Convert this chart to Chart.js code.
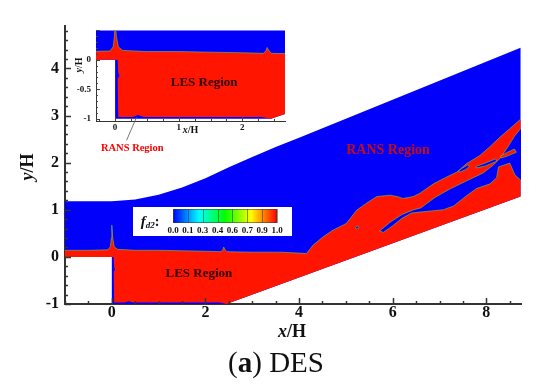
<!DOCTYPE html>
<html>
<head>
<meta charset="utf-8">
<script src="https://cdn.jsdelivr.net/npm/chart.js@4.4.1/dist/chart.umd.min.js"></script>
<style>
  html, body { margin: 0; padding: 0; background: #fff; }
  #wrap { position: relative; width: 550px; height: 387px; overflow: hidden; }
  #main { position: absolute; left: 0; top: 0; }
  #inset { position: absolute; left: 66px; top: 20px; }
</style>
</head>
<body>
<div id="wrap">
  <canvas id="main" width="550" height="387"></canvas>
  <canvas id="inset" width="224" height="140"></canvas>
</div>
<script>
// ---- geometry, in x/H, y/H ----
const upperWall = [[-1, 1.18], [0, 1.18], [0.5, 1.22], [1, 1.32], [1.5, 1.47], [2, 1.67], [2.5, 1.9],
  [3, 2.12], [3.5, 2.33], [4, 2.53], [8.73, 4.44]];
const lowerWall = [[8.73, 1.28], [2.45, -1], [0, -1], [0, 0], [-1, 0]];

// top edge of the LES (f_d2 = 1) zone, left to right
const lesInterface = [[-1, 0.14], [-0.5, 0.14], [-0.08, 0.15], [-0.03, 0.22], [-0.01, 0.4], [0, 0.67],
  [0.02, 0.4], [0.05, 0.22], [0.12, 0.16], [0.5, 0.14], [1, 0.14], [1.5, 0.13], [2, 0.12], [2.33, 0.11],
  [2.37, 0.15], [2.39, 0.21], [2.42, 0.15], [2.46, 0.11], [3, 0.1], [3.59, 0.1], [4.0, 0.08], [4.16, 0.07],
  [4.22, 0.15], [4.3, 0.25], [4.52, 0.43], [4.73, 0.57], [5.01, 0.71], [5.12, 0.85], [5.23, 0.99],
  [5.44, 1.14], [5.66, 1.28], [5.94, 1.31], [6.1, 1.28], [6.22, 1.24], [6.44, 1.28], [6.58, 1.35],
  [6.87, 1.55], [7.1, 1.67], [7.37, 1.8], [7.58, 1.98], [7.86, 2.15], [8.1, 2.36], [8.29, 2.54],
  [8.5, 2.72], [8.73, 2.92]];
// rest of the LES zone outline, along the walls back to the start
const lesLower = [[8.73, 1.28], [2.45, -1], [2.3, -0.97], [0.45, -0.97], [0.36, -0.94], [0.28, -0.97],
  [0.05, -0.97], [0.04, -0.32], [0.07, -0.27], [0.05, -0.22], [0.04, 0], [-1, 0]];

// RANS pockets inside the LES band (right side runs past the outlet and is clipped)
const ransChannel = [[5.72, 0.55], [5.95, 0.74], [6.2, 0.9], [6.45, 1.0], [6.6, 1.04], [6.9, 1.26],
  [7.22, 1.44], [7.55, 1.6], [7.93, 1.78], [8.15, 1.95], [8.3, 2.1], [8.45, 2.32], [8.6, 2.56],
  [8.73, 2.72], [8.8, 2.75], [8.8, 1.6], [8.73, 1.63], [8.61, 1.74], [8.5, 1.99], [8.26, 1.91],
  [8.22, 1.68], [8.08, 1.55], [7.79, 1.45], [7.58, 1.3], [7.3, 1.08], [7.08, 1.0], [6.87, 0.98],
  [6.58, 0.95], [6.4, 0.93], [6.2, 0.82], [6.0, 0.66], [5.8, 0.52]];
const ransHoleA = [[7.4, 1.82], [7.48, 1.88], [7.6, 1.95], [7.64, 1.92], [7.55, 1.85], [7.44, 1.8]];
const ransHoleB = [[7.78, 1.92], [7.95, 1.98], [8.2, 2.08], [8.22, 2.03], [7.98, 1.93], [7.8, 1.89]];
const ransDot = [[5.2, 0.62], [5.26, 0.66], [5.28, 0.62], [5.22, 0.59]];
// LES streak inside the RANS channel
const lesStreak = [[8.3, 2.14], [8.45, 2.22], [8.6, 2.29], [8.64, 2.22], [8.45, 2.14], [8.32, 2.1]];

// axes and legend
const mainX = [-1, 8.74], mainY = [-1, 4.9];
const insetX = [-0.3, 2.67], insetY = [-1.04, 0.5];
const insetYTicks = [-1, -0.5, 0];
const colorbarTicks = ['0.0', '0.1', '0.3', '0.4', '0.6', '0.7', '0.9', '1.0'];
const colorbarStops = ['#0000ff', '#00ffff', '#00ff00', '#ffff00', '#ff0000'];

const BLUE = '#0000fb', RED = '#ff1500', EDGE = 'rgba(120,200,60,0.6)';
const SERIF = '"Liberation Serif", "Times New Roman", serif';

const pts = a => a.map(([x, y]) => ({ x, y }));
const closed = a => a.concat([a[0]]);

function fieldDatasets() {
  return [
    { data: pts(upperWall.concat(lowerWall)), backgroundColor: BLUE, fill: 'shape', borderWidth: 0, order: 5 },
    { data: pts(lesInterface.concat(lesLower)), backgroundColor: RED, fill: 'shape', borderWidth: 0, order: 4 },
    { data: pts(lesInterface), fill: false, borderColor: EDGE, borderWidth: 1, order: 3 },
    ...[ransChannel, ransHoleA, ransHoleB, ransDot].map(p => (
      { data: pts(closed(p)), backgroundColor: BLUE, fill: 'shape', borderColor: EDGE, borderWidth: 1, order: 2 })),
    { data: pts(closed(lesStreak)), backgroundColor: RED, fill: 'shape', borderColor: EDGE, borderWidth: 1, order: 1 }
  ];
}

function drawParts(ctx, parts, cx, cy) {
  let w = 0;
  parts.forEach(p => { ctx.font = p.font; p.w = ctx.measureText(p.t).width; w += p.w; });
  let xx = cx - w / 2;
  ctx.textAlign = 'left';
  ctx.textBaseline = 'alphabetic';
  parts.forEach(p => {
    ctx.font = p.font;
    ctx.fillStyle = p.color || '#111';
    ctx.fillText(p.t, xx, cy + (p.dy || 0));
    xx += p.w;
  });
}

function text(ctx, s, x, y, font, color) {
  ctx.font = font;
  ctx.fillStyle = color;
  ctx.textAlign = 'center';
  ctx.textBaseline = 'middle';
  ctx.fillText(s, x, y);
}

// inward tick marks (Tecplot style)
function inwardTicks(chart, t) {
  const { ctx, chartArea: a, scales: { x, y } } = chart;
  ctx.save();
  ctx.strokeStyle = t.color;
  ctx.lineWidth = t.width;
  ctx.beginPath();
  for (let i = Math.ceil(x.min / t.xMinor - 1e-9); i * t.xMinor <= x.max + 1e-9; i++) {
    const v = i * t.xMinor;
    const major = Math.abs(v / t.xMajor - Math.round(v / t.xMajor)) < 1e-6;
    const px = Math.round(x.getPixelForValue(v)) + 0.5;
    ctx.moveTo(px, a.bottom);
    ctx.lineTo(px, a.bottom - (major ? t.major : t.minor));
  }
  for (let i = Math.ceil(y.min / t.yMinor - 1e-9); i * t.yMinor <= y.max + 1e-9; i++) {
    const v = i * t.yMinor;
    const major = Math.abs(v / t.yMajor - Math.round(v / t.yMajor)) < 1e-6;
    const py = Math.round(y.getPixelForValue(v)) + 0.5;
    ctx.moveTo(a.left, py);
    ctx.lineTo(a.left + (major ? t.major : t.minor), py);
  }
  ctx.stroke();
  ctx.restore();
}

function axisOpts(range, step, fontSize, pad, lineW, fit) {
  return {
    type: 'linear', min: range[0], max: range[1],
    grid: { display: false, drawTicks: false },
    border: { display: true, color: '#333', width: lineW },
    ticks: { stepSize: step, includeBounds: false, padding: pad, color: '#111',
      font: { family: SERIF, weight: 'bold', size: fontSize },
      callback: v => String(+v.toFixed(2)) },
    afterFit: fit
  };
}

const mainDecor = {
  id: 'mainDecor',
  afterDatasetsDraw(chart) {
    const { ctx, scales: { x, y } } = chart;
    ctx.save();
    text(ctx, 'LES Region', x.getPixelForValue(1.86), y.getPixelForValue(-0.35), 'bold 13px ' + SERIF, '#2a0000');
    text(ctx, 'RANS Region', x.getPixelForValue(5.9), y.getPixelForValue(2.25), 'bold 14px ' + SERIF, '#c00c18');

    // colour legend
    ctx.fillStyle = '#fff';
    ctx.fillRect(133, 207, 159, 29);
    const bx = 173, bw = 104, by = 209, bh = 14;
    const g = ctx.createLinearGradient(bx, 0, bx + bw, 0);
    colorbarStops.forEach((c, i) => g.addColorStop(i / (colorbarStops.length - 1), c));
    ctx.fillStyle = g;
    ctx.fillRect(bx, by, bw, bh);
    ctx.strokeStyle = 'rgba(60,60,60,0.7)';
    ctx.lineWidth = 0.8;
    ctx.beginPath();
    colorbarTicks.forEach((_, i) => {
      const px = Math.round(bx + i * bw / (colorbarTicks.length - 1)) + 0.5;
      ctx.moveTo(px, by); ctx.lineTo(px, by + bh);
    });
    ctx.stroke();
    ctx.strokeRect(bx + 0.5, by + 0.5, bw - 1, bh - 1);
    colorbarTicks.forEach((s, i) => {
      text(ctx, s, bx + i * bw / (colorbarTicks.length - 1), 231, 'bold 9px ' + SERIF, '#111');
    });
    drawParts(ctx, [
      { t: 'f', font: 'italic bold 15px ' + SERIF },
      { t: 'd2', font: 'italic bold 9px ' + SERIF, dy: 2 },
      { t: ':', font: 'bold 14px ' + SERIF }
    ], 150, 226);
    ctx.restore();
  },
  afterDraw(chart) {
    const { ctx } = chart;
    inwardTicks(chart, { color: '#333', width: 1.5, xMinor: 0.5, xMajor: 2, yMinor: 0.2, yMajor: 1, major: 6, minor: 3 });
    ctx.save();
    drawParts(ctx, [
      { t: 'x', font: 'italic bold 18px ' + SERIF },
      { t: '/H', font: 'bold 18px ' + SERIF }
    ], 292, 337);
    ctx.translate(33, 167);
    ctx.rotate(-Math.PI / 2);
    drawParts(ctx, [
      { t: 'y', font: 'italic bold 18px ' + SERIF },
      { t: '/H', font: 'bold 18px ' + SERIF }
    ], 0, 0);
    ctx.restore();
    ctx.save();
    drawParts(ctx, [
      { t: '(', font: '29px ' + SERIF },
      { t: 'a', font: 'bold 29px ' + SERIF },
      { t: ') DES', font: '29px ' + SERIF }
    ], 276, 372);
    ctx.restore();
  }
};

const insetDecor = {
  id: 'insetDecor',
  afterDatasetsDraw(chart) {
    const { ctx, scales: { x, y } } = chart;
    ctx.save();
    text(ctx, 'LES Region', x.getPixelForValue(1.4), y.getPixelForValue(-0.39), 'bold 13px ' + SERIF, '#2a0000');
    ctx.restore();
  },
  afterDraw(chart) {
    const { ctx, scales: { x, y } } = chart;
    inwardTicks(chart, { color: '#444', width: 1, xMinor: 0.25, xMajor: 1, yMinor: 0.1, yMajor: 0.5, major: 4, minor: 2 });
    ctx.save();
    // leader line and label
    ctx.strokeStyle = '#555';
    ctx.lineWidth = 0.8;
    ctx.beginPath();
    ctx.moveTo(x.getPixelForValue(0.18), y.getPixelForValue(-1.37));
    ctx.lineTo(x.getPixelForValue(0.34), y.getPixelForValue(-0.97));
    ctx.stroke();
    text(ctx, 'RANS Region', x.getPixelForValue(0.27), y.getPixelForValue(-1.5), 'bold 10.5px ' + SERIF, '#ff0000');
    drawParts(ctx, [
      { t: 'x', font: 'italic bold 10px ' + SERIF },
      { t: '/H', font: 'bold 10px ' + SERIF }
    ], 124.5, 113);
    ctx.translate(16, 45);
    ctx.rotate(-Math.PI / 2);
    drawParts(ctx, [
      { t: 'y', font: 'italic bold 10px ' + SERIF },
      { t: '/H', font: 'bold 10px ' + SERIF }
    ], 0, 0);
    ctx.restore();
  }
};

const common = {
  responsive: false, animation: false, devicePixelRatio: 1, events: [],
  elements: { point: { radius: 0 }, line: { tension: 0 } },
  plugins: { legend: { display: false }, tooltip: { enabled: false } }
};

new Chart(document.getElementById('main'), {
  type: 'line',
  data: { datasets: fieldDatasets() },
  options: {
    ...common,
    layout: { padding: { left: 0, top: 26, right: 29, bottom: 0 } },
    scales: {
      x: axisOpts(mainX, 2, 16, -1, 2, s => { s.height = 83; }),
      y: axisOpts(mainY, 1, 16, 6, 2, s => { s.width = 65; })
    }
  },
  plugins: [mainDecor]
});

const insetYAxis = axisOpts(insetY, 0.5, 9, 5, 1, s => { s.width = 30; });
insetYAxis.afterBuildTicks = s => { s.ticks = insetYTicks.map(v => ({ value: v })); };

new Chart(document.getElementById('inset'), {
  type: 'line',
  data: { datasets: fieldDatasets() },
  options: {
    ...common,
    layout: { padding: { left: 0, top: 6, right: 5, bottom: 0 } },
    scales: {
      x: axisOpts(insetX, 1, 9, 1, 1, s => { s.height = 39; }),
      y: insetYAxis
    }
  },
  plugins: [insetDecor]
});
</script>
</body>
</html>
